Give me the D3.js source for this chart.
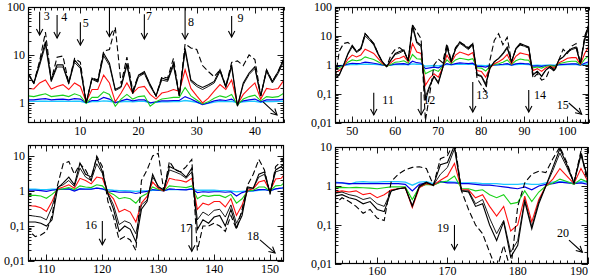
<!DOCTYPE html>
<html><head><meta charset="utf-8">
<script src="https://cdn.jsdelivr.net/npm/d3@7"></script>
<style>body{margin:0;background:#fff}svg{display:block}svg text{font-family:"Liberation Serif",Tinos,"Times New Roman",Times,serif !important;font-size:12px}</style>
</head><body>
<svg id="c" width="600" height="278"></svg>
<script>
// x categories 1..190
const xValues = d3.range(1, 191);
const dashed = [
4.2,2.6,7.5,30,3,9,9.5,2.6,8.5,7, 1.0,3.3,3,12,13,38,2.5,9,1.8,3.8, 4.2,2.4,1.4,3.5,3.3,8.5,1.4,17,14,13, 6,4.5,3.5,4.9,2.2,7,7.5,6,10,8, 1.4,4.9,2.8,4.5,8.5,
0.3,3,5.5,6,4.5,3,3.7,12,8.2,5.5, 2.5,1.2,0.88,2.2,3.5,4,3,1.4,24,14, 8,0.012,0.1,1.0,1.6,1.2,5.5,1.4,4,6, 5,4,5.5,0.35,0.2,0.12,1.5,7,12,5, 9,1.3,3.5,5,4.5,4,0.35,0.5,0.3,0.35, 0.8,0.6,1.5,3.5,2.5,4.5,5.5,1.1,10,25,
0.07,0.07,0.05,0.055,0.07,0.2,1.5,6,7,3, 6,4,2,10,5,0.5,0.18,0.04,0.05,0.04, 0.02,2,4,10,12,1.0,7,4,3.5,5, 8,0.02,0.1,0.1,0.12,0.1,0.07,0.2,0.08,0.3, 1.5,3,8,4,0.8,5,7,10,
0.35,0.5,0.4,0.3,0.2,0.25,0.15,0.13,1.3,2, 2.6,3,3.1,2.8,1.05,5,6,14,0.75,0.25, 0.1,0.06,0.02,0.007,0.03,0.007,0.3,1.2,2,2.4, 2.2,5,10,4,1.2,8,1.0
];
const black1 = [
4.2,2.6,6.7,19,3,6.2,6.2,2.6,7.9,5.7, 1.0,3.3,2.8,10.8,6.7,1.9,2.2,6.7,1.6,3.8, 4.5,2.4,1.4,3.3,3,6.7,1.4,13.7,3,2.4, 2.1,2.4,2.8,4.9,2.2,6.2,0.85,2.6,4.2,5.7, 1.4,4.9,2.8,4.5,8.5,
0.35,0.45,1.0,2.5,4.8,2.9,3.7,12,8.2,5.5, 2.5,1.3,0.88,1.5,2.5,2.9,3.3,1.4,24,6.3, 4.8,0.06,0.18,0.4,0.23,0.77,4.5,1.3,3.7,6.3, 4.8,3.7,5.5,0.45,0.4,0.2,0.77,1.3,1.7,2.5, 4.2,1.3,3.7,5.5,4.8,4.2,0.45,0.6,0.4,0.67, 0.88,0.67,1.5,1.9,2.9,3.7,4.2,1.15,8.2,27,
0.13,0.13,0.13,0.12,0.1,0.15,1.2,1.7,2.5,1.5, 6.3,3,2.5,9,3.6,0.8,0.3,0.07,0.1,0.08, 0.035,0.3,0.5,3,1.3,1.1,5,4.2,3.5,2.5, 4.5,0.08,0.15,0.12,0.18,0.2,0.1,0.3,0.09,0.2, 1.3,1.2,3,3.5,0.9,4,5,7,
0.55,0.6,0.5,0.45,0.35,0.4,0.25,0.22,0.75,0.85, 0.9,0.3,1.0,1.25,1.05,3.5,4,11,0.75,0.7, 0.3,0.35,0.1,0.04,0.12,0.015,0.03,0.4,0.08,0.35, 1.0,3,9,3.5,1.2,7,1.5
];
const black2 = [
3.9,2.5,6.0,16,2.8,5.6,5.6,2.5,7.0,5.2, 1.0,3.1,2.7,9.6,6.0,1.8,2.1,6.0,1.55,3.5, 4.1,2.2,1.38,3.0,2.8,6.0,1.4,12,2.8,2.2, 1.9,2.2,2.6,4.5,2.1,5.6,0.86,2.4,3.9,5.2, 1.38,4.5,2.6,4.1,7.6,
0.4,0.48,1.0,2.3,4.2,2.7,3.4,10,7.2,4.9, 2.3,1.28,0.88,1.45,2.3,2.6,3.1,1.42,20,5.6, 4.3,0.08,0.2,0.42,0.26,0.78,4.0,1.28,3.4,5.6, 4.4,3.4,5.0,0.48,0.43,0.23,0.78,1.28,1.65,2.3, 3.8,1.28,3.4,5.0,4.4,3.8,0.48,0.62,0.43,0.69, 0.88,0.69,1.48,1.85,2.7,3.4,3.8,1.13,7.2,21,
0.2,0.2,0.19,0.18,0.15,0.35,1.3,1.5,2,1.35, 4.5,2.5,2,6,3.2,0.85,0.4,0.11,0.14,0.12, 0.06,0.4,0.55,2.5,1.4,1.0,4,3.5,3,2.3, 3.5,0.15,0.25,0.2,0.28,0.3,0.18,0.4,0.12,0.25, 1.2,1.2,2.5,3,0.9,3.5,4,6,
0.65,0.7,0.6,0.55,0.45,0.5,0.35,0.3,0.75,0.85, 0.9,0.32,0.95,1.2,1.05,2,3,9,0.75,0.75, 0.35,0.45,0.15,0.06,0.13,0.02,0.04,0.45,0.09,0.4, 1.0,2.5,7,3,1.2,6,1.5
];
const red = [
2.0,1.95,2.6,3.0,1.95,2.2,2.4,1.9,2.6,2.2, 1.05,1.9,1.9,3.8,2.6,1.05,1.6,2.6,1.6,2.1, 2.2,1.5,1.2,1.6,1.7,1.9,1.75,4.9,2.0,1.4, 1.0,1.25,1.75,2.4,1.9,3.0,0.93,1.5,2.0,2.6, 1.2,2.0,1.9,2.0,3.0,
0.55,0.65,0.9,1.6,2.2,1.9,2.2,3.5,3,2.5, 1.7,1.15,0.9,1.2,1.6,1.7,2,1.3,5.5,2.8, 2.5,0.2,0.35,0.5,0.38,0.8,2.2,1.2,2.2,2.8, 2.5,2.2,2.7,0.65,0.6,0.38,0.8,1.1,1.3,1.6, 2.3,1.1,2,2.6,2.4,2.2,0.65,0.75,0.6,0.8, 0.9,0.8,1.2,1.4,1.7,1.8,1.8,1.05,2.5,4.5,
0.4,0.38,0.37,0.33,0.26,0.5,1.15,1.3,1.5,1.2, 2.3,2,1.6,2.5,2.3,0.9,0.6,0.25,0.3,0.25, 0.13,0.45,0.7,1.8,1.2,1.0,2.3,2.1,2,1.8, 2.3,0.3,0.45,0.4,0.5,0.5,0.35,0.6,0.2,0.4, 1.05,1.15,1.8,2,1.0,2.2,2.3,3.5,
0.7,0.75,0.7,0.75,0.6,0.65,0.5,0.6,0.8,0.85, 0.9,0.28,0.9,1.15,1.05,1.4,1.8,3.8,0.8,0.8, 0.5,0.6,0.3,0.17,0.3,0.07,0.1,0.55,0.12,0.45, 1.0,1.5,2.8,1.8,1.15,2.8,1.3
];
const green = [
1.4,1.35,1.45,1.55,1.35,1.4,1.45,1.35,1.55,1.4, 0.97,1.3,1.3,1.7,1.5,0.85,1.2,1.5,1.2,1.35, 1.4,0.85,1.05,1.2,1.25,1.3,1.3,2.1,1.4,1.15, 0.95,1.05,1.25,1.4,1.3,1.5,0.9,1.2,1.35,1.45, 1.1,1.35,1.3,1.35,1.6,
0.75,0.8,0.95,1.25,1.5,1.4,1.5,1.9,1.7,1.55, 1.3,1.05,0.9,1.05,1.25,1.3,1.4,1.15,2.3,1.65, 1.6,0.5,0.6,0.7,0.6,0.9,1.5,1.1,1.5,1.7, 1.6,1.5,1.65,0.8,0.78,0.62,0.9,1.05,1.1,1.25, 1.5,1.05,1.4,1.6,1.5,1.45,0.8,0.85,0.78,0.9, 0.95,0.9,1.1,1.2,1.3,1.35,1.35,1.0,1.6,2.1,
0.78,0.75,0.75,0.72,0.62,0.8,1.1,1.15,1.25,1.1, 1.4,1.3,1.25,1.5,1.4,0.95,0.8,0.6,0.65,0.6, 0.45,0.7,0.85,1.3,1.1,1.0,1.4,1.35,1.3,1.25, 1.4,0.6,0.75,0.7,0.75,0.75,0.65,0.8,0.45,0.6, 1.0,1.05,1.3,1.3,1.0,1.4,1.45,2,
0.9,0.92,0.9,0.92,0.9,0.88,0.85,0.9,0.95,0.95, 0.95,0.45,0.95,1.1,1.05,1.25,1.35,1.8,0.85,0.85, 0.75,0.8,0.6,0.5,0.6,0.35,0.38,0.75,0.4,0.7, 1.0,1.2,1.5,1.3,1.1,1.5,1.25
];
const blue = [
1.15,1.15,1.2,1.22,1.15,1.18,1.2,1.15,1.22,1.2, 1.0,1.12,1.12,1.3,1.2,1.0,1.1,1.2,1.1,1.15, 1.15,1.0,1.05,1.1,1.1,1.12,1.12,1.35,1.2,1.05, 0.92,1.0,1.1,1.15,1.12,1.2,1.0,1.1,1.15,1.2, 1.05,1.15,1.15,1.15,1.2,
0.88,0.9,0.97,1.08,1.15,1.12,1.15,1.25,1.2,1.15, 1.08,1.0,0.95,1.0,1.08,1.1,1.12,1.04,1.35,1.2, 1.15,0.75,0.8,0.85,0.8,0.95,1.12,1.02,1.12,1.18, 1.15,1.12,1.15,0.9,0.9,0.85,0.95,1.0,1.02,1.06, 1.12,1.0,1.1,1.15,1.12,1.1,0.92,0.93,0.9,0.95, 0.97,0.95,1.02,1.05,1.08,1.1,1.1,1.0,1.15,1.3,
1.05,1.05,1.05,1.02,0.98,1.05,1.1,1.12,1.15,1.0, 1.15,1.12,1.12,1.2,1.15,1.0,0.97,0.92,0.93,0.92, 0.85,0.92,0.97,1.1,1.05,1.0,1.15,1.12,1.1,1.08, 1.15,0.9,0.95,0.93,0.95,0.95,0.92,0.95,0.72,0.9, 1.0,1.02,1.1,1.1,1.0,1.15,1.2,1.3,
1.2,1.2,1.15,1.15,1.15,1.15,1.15,1.15,1.15,1.15, 1.1,0.75,1.1,1.2,1.05,1.3,1.2,1.2,1.15,1.15, 1.1,1.05,1.05,1.0,0.95,0.9,0.85,0.95,0.8,1.0, 1.1,1.15,1.25,1.2,1.15,1.2,1.1
];
const cyan = [
1.07,1.07,1.08,1.09,1.07,1.08,1.08,1.07,1.09,1.08, 1.0,1.06,1.06,1.1,1.08,1.02,1.05,1.08,1.05,1.07, 1.07,1.0,1.02,1.05,1.05,1.06,1.06,1.12,1.08,1.02, 0.94,0.98,1.04,1.07,1.06,1.08,1.0,1.05,1.07,1.08, 1.02,1.07,1.06,1.07,1.08,
0.95,0.95,0.98,1.02,1.05,1.04,1.05,1.08,1.06,1.05, 1.03,1.0,0.98,1.0,1.03,1.04,1.05,1.02,1.1,1.06, 1.05,0.92,0.94,0.96,0.94,0.99,1.05,1.01,1.05,1.06, 1.05,1.05,1.06,0.97,0.97,0.95,0.99,1.0,1.01,1.02, 1.05,1.0,1.04,1.06,1.05,1.04,0.97,0.98,0.97,0.98, 0.99,0.98,1.01,1.02,1.03,1.04,1.04,1.0,1.05,1.1,
1.12,1.12,1.12,1.1,1.1,1.12,1.12,1.15,1.15,1.05, 1.15,1.15,1.15,1.2,1.15,1.1,1.05,1.02,1.02,1.0, 0.98,1.0,1.0,1.05,1.05,1.05,1.1,1.1,1.1,1.1, 1.15,1.05,1.05,1.05,1.05,1.03,1.02,1.0,0.95,0.98, 1.0,1.0,1.05,1.1,1.05,1.15,1.2,1.3,
1.25,1.2,1.1,1.25,1.3,1.25,1.25,1.3,1.3,1.3, 1.25,1.05,1.25,1.3,1.15,1.25,1.3,1.25,1.2,1.2, 1.2,1.15,1.15,1.15,1.1,1.1,1.1,1.15,1.1,1.1, 1.2,1.25,1.3,1.25,1.2,1.3,1.25
];
// tick values
const xTicks = [[10,20,30,40],[50,60,70,80,90,100],[110,120,130,140,150],[160,170,180,190]];
const yTicks = [[1,10,100],[0.01,0.1,1,10,100],[0.01,0.1,1,10],[0.01,0.1,1,10]];
// annotations (arrows with numbers), in data coordinates
const arrows = [
 {p:0,x1:3,y1:80,x2:3,y2:26,t:"3",lx:3.7,ly:53},
 {p:0,x1:6,y1:68,x2:6,y2:22.6,t:"4",lx:6.7,ly:51},
 {p:0,x1:10,y1:48,x2:10,y2:16,t:"5",lx:10.4,ly:38},
 {p:0,x1:15,y1:100,x2:15,y2:24,t:""},
 {p:0,x1:21,y1:71,x2:21,y2:21.5,t:"7",lx:21.3,ly:53},
 {p:0,x1:28,y1:100,x2:28,y2:21.5,t:"8",lx:28.5,ly:40},
 {p:0,x1:36,y1:65,x2:36,y2:23.7,t:"9",lx:37,ly:48.7},
 {p:0,x1:41.4,y1:1.05,x2:43.8,y2:0.56,t:""},
 {p:1,x1:55,y1:0.11,x2:55,y2:0.019,t:"11",lx:57,ly:0.047},
 {p:1,x1:66,y1:0.117,x2:66,y2:0.019,t:"12",lx:66.5,ly:0.047},
 {p:1,x1:78,y1:0.26,x2:78,y2:0.024,t:"13",lx:78.8,ly:0.067},
 {p:1,x1:91,y1:0.137,x2:91,y2:0.024,t:"14",lx:92.2,ly:0.067},
 {p:1,x1:100.3,y1:0.049,x2:103.3,y2:0.02,t:"15",lx:97.5,ly:0.03},
 {p:2,x1:120,y1:0.139,x2:120,y2:0.029,t:"16",lx:116.9,ly:0.082},
 {p:2,x1:136,y1:0.107,x2:136,y2:0.019,t:"17",lx:133.9,ly:0.067},
 {p:2,x1:148.2,y1:0.04,x2:150.9,y2:0.017,t:"18",lx:145.9,ly:0.04},
 {p:3,x1:171,y1:0.1,x2:171,y2:0.023,t:"19",lx:168.5,ly:0.066},
 {p:3,x1:187.3,y1:0.041,x2:189.2,y2:0.02,t:"20",lx:185.6,ly:0.049}
];

const layout = [
 {xd:[1,45], yd:[0.38,100], r:[28,7,284,123]},
 {xd:[46,105], yd:[0.01,100], r:[335,7,589,123]},
 {xd:[106.7,152.5], yd:[0.01,20.6], r:[28,145,284,261]},
 {xd:[154,190], yd:[0.01,10], r:[335,147,588,264]}
];
const seriesDefs = [
 {v:cyan, c:"#1ec8ff", w:1.3},
 {v:blue, c:"#0000e6", w:1.2},
 {v:green, c:"#19d219", w:1.1},
 {v:red, c:"#ff1010", w:1.1},
 {v:black2, c:"#000", w:0.9},
 {v:black1, c:"#000", w:1.1},
 {v:dashed, c:"#000", w:1.1, dash:"6,3"}
];
const fmt = v => String(v).replace(".", ",");
const svg = d3.select("#c");
const defs = svg.append("defs");
defs.append("marker").attr("id","ah").attr("viewBox","-8 -5 10 10").attr("refX",0).attr("refY",0)
 .attr("markerWidth",10).attr("markerHeight",10).attr("markerUnits","userSpaceOnUse").attr("orient","auto")
 .append("path").attr("d","M-6,-3.2L0,0L-6,3.2").attr("fill","none").attr("stroke","#000").attr("stroke-width",1.1);

layout.forEach((L, i) => {
  const [x0,y0,x1,y1] = L.r;
  const xs = d3.scaleLinear().domain(L.xd).range([x0,x1]);
  const ys = d3.scaleLog().domain(L.yd).range([y1,y0]);
  defs.append("clipPath").attr("id","cp"+i).append("rect").attr("x",x0).attr("y",y0).attr("width",x1-x0).attr("height",y1-y0);
  const g = svg.append("g");
  const plot = g.append("g").attr("clip-path",`url(#cp${i})`);
  const idx = xValues.map((x,k)=>k).filter(k => xValues[k] >= L.xd[0]-1 && xValues[k] <= L.xd[1]+1);
  const line = d3.line().x(k => xs(xValues[k]));
  seriesDefs.forEach(s => {
    plot.append("path").attr("d", line.y(k => ys(s.v[k]))(idx))
      .attr("fill","none").attr("stroke",s.c).attr("stroke-width",s.w)
      .attr("stroke-dasharray", s.dash || null).attr("stroke-linejoin","miter");
  });
  // ticks
  const tk = g.append("g").attr("stroke","#000").attr("stroke-width",0.9);
  const xmin = Math.ceil(L.xd[0]), xmax = Math.floor(L.xd[1]);
  d3.range(xmin, xmax+1).forEach(x => {
    const len = (x % 10 === 0) ? 6.5 : 3.5;
    const px = Math.round(xs(x)) + 0.5;
    tk.append("line").attr("x1",px).attr("x2",px).attr("y1",y1).attr("y2",y1-len);
    tk.append("line").attr("x1",px).attr("x2",px).attr("y1",y0).attr("y2",y0+len);
  });
  const e0 = Math.floor(Math.log10(L.yd[0])), e1 = Math.ceil(Math.log10(L.yd[1]));
  for (let e = e0; e <= e1; e++) {
    for (let m = 1; m <= 9; m++) {
      const v = m * Math.pow(10, e);
      if (v < L.yd[0]*0.999 || v > L.yd[1]*1.001) continue;
      const len = m === 1 ? 6.5 : 3.5;
      const py = Math.round(ys(v)) + 0.5;
      tk.append("line").attr("x1",x0).attr("x2",x0+len).attr("y1",py).attr("y2",py);
      tk.append("line").attr("x1",x1).attr("x2",x1-len).attr("y1",py).attr("y2",py);
    }
  }
  g.append("rect").attr("x",x0+0.5).attr("y",y0+0.5).attr("width",x1-x0-1).attr("height",y1-y0-1)
    .attr("fill","none").attr("stroke","#000").attr("stroke-width",1.2);
  xTicks[i].forEach(x => {
    g.append("text").attr("x", Math.min(xs(x), x1-9)).attr("y", Math.min(y1+12, 275)).attr("text-anchor","middle").text(x);
  });
  yTicks[i].forEach(v => {
    g.append("text").attr("x", x0-3).attr("y", ys(v)+4).attr("text-anchor","end").text(fmt(v));
  });
  arrows.filter(a => a.p === i).forEach(a => {
    g.append("line").attr("x1",xs(a.x1)).attr("y1",ys(a.y1)).attr("x2",xs(a.x2)).attr("y2",ys(a.y2))
      .attr("stroke","#000").attr("stroke-width",1.1).attr("marker-end","url(#ah)");
    if (a.t) g.append("text").attr("x",xs(a.lx)).attr("y",ys(a.ly)).text(a.t);
  });
});
</script>
</body></html>
